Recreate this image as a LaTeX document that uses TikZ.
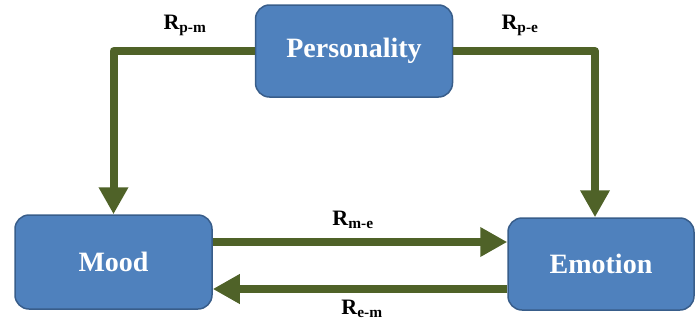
\documentclass[tikz,border=0pt]{standalone}
\usepackage{fontspec}
\setmainfont{Liberation Serif}
\usetikzlibrary{positioning,arrows.meta}

\definecolor{boxblue}{HTML}{4F81BD}
\definecolor{boxedge}{HTML}{385D8A}
\definecolor{linkgreen}{HTML}{4F6228}

\tikzset{
	state/.style={draw=boxedge, line width=1.5pt, fill=boxblue, rounded corners=14pt,
		text=white, font=\fontsize{28}{30}\selectfont\bfseries,
		minimum width=197pt, minimum height=92pt},
	link/.style={draw=linkgreen, line width=8pt, line join=round,
		-{Triangle[width=28pt,length=27pt]}},
	rel/.style={font=\fontsize{22}{24}\selectfont\bfseries}
}

\begin{document}
\begin{tikzpicture}[x=1pt, y=-1pt]
	\useasboundingbox (0, 0) rectangle (695, 324);

	\node[state] (pers) at (354, 51) {Personality};
	\node[state, minimum height=94pt] (mood) at (113.5, 262) {Mood};
	\node[state, minimum width=186pt] (emo) at (601, 264) {Emotion};

	\draw[link] (pers.west) -| (mood.north);
	\draw[link] (pers.east) -| ([xshift=-6pt]emo.north);
	\draw[link] ([yshift=20pt]mood.east) -- ([yshift=20pt]mood.east -| emo.west);
	\draw[link] ([yshift=-27pt]mood.east -| emo.west) -- ([yshift=-27pt]mood.east);

	% Labels
	\node[rel] (rpm) at (185, 25) {R\textsubscript{p-m}};
	\node[rel] (rpe) at (520, 25) {R\textsubscript{p-e}};
	\node[rel] (rme) at (353, 220) {R\textsubscript{m-e}};
	\node[rel] (rem) at (362, 309) {R\textsubscript{e-m}};
\end{tikzpicture}
\end{document}
